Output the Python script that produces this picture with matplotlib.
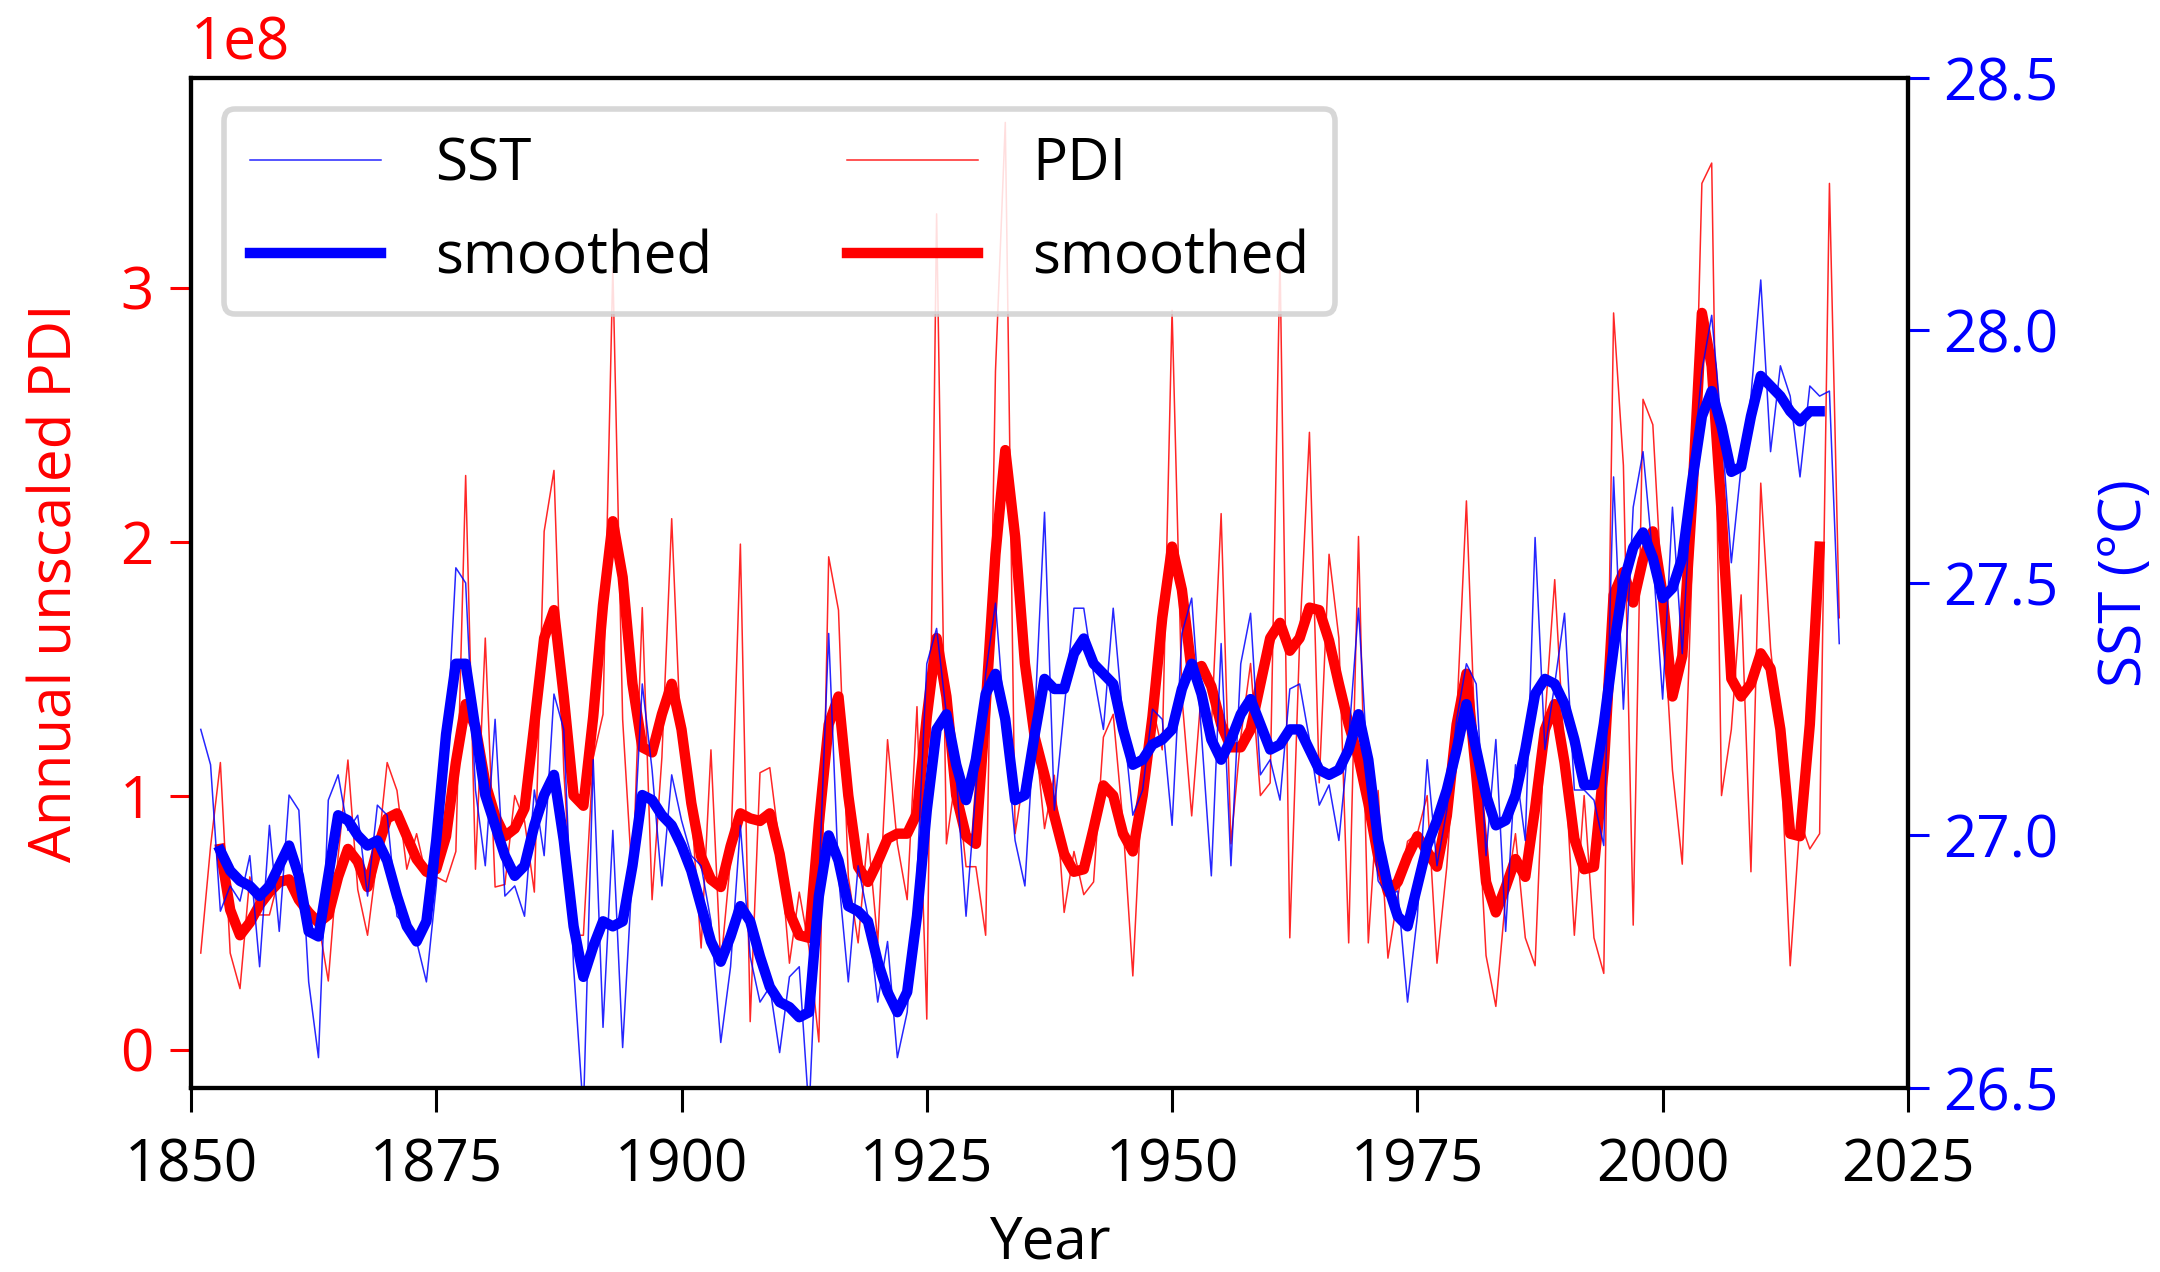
import numpy as np
import matplotlib
matplotlib.use("Agg")
import matplotlib.pyplot as plt
from matplotlib.ticker import FormatStrFormatter

plt.rcParams['font.family'] = ['Open Sans', 'DejaVu Sans']

years = list(range(1851, 2019))
smooth_years = list(range(1853, 2017))

# Annual unscaled PDI (units of 1e8)
pdi = [0.38, 0.80, 1.13, 0.38, 0.24, 0.68, 0.53, 0.53, 0.68, 0.68,
       0.63, 0.55, 0.50, 0.27, 0.76, 1.14, 0.63, 0.45, 0.76, 1.13,
       1.02, 0.71, 0.85, 0.68, 0.68, 0.66, 0.78, 2.26, 0.71, 1.62,
       0.64, 0.65, 1.00, 0.90, 0.62, 2.04, 2.28, 1.10, 0.45, 0.45,
       1.15, 1.32, 3.08, 1.30, 0.65, 1.74, 0.59, 1.15, 2.09, 1.15,
       0.95, 0.40, 1.18, 0.33, 0.75, 1.99, 0.11, 1.09, 1.11, 0.80,
       0.34, 0.62, 0.40, 0.03, 1.94, 1.73, 0.68, 0.42, 0.85, 0.42,
       1.22, 0.81, 0.59, 1.35, 0.12, 3.29, 0.81, 1.09, 0.72, 0.72,
       0.45, 2.67, 3.65, 0.85, 1.10, 1.26, 0.87, 1.08, 0.54, 0.78,
       0.61, 0.66, 1.23, 1.32, 0.89, 0.29, 1.08, 1.35, 1.18, 2.91,
       1.39, 0.92, 1.42, 1.26, 2.11, 0.81, 1.23, 1.52, 1.00, 1.05,
       3.12, 0.44, 1.61, 2.43, 1.05, 1.95, 1.62, 0.42, 2.02, 0.42,
       1.02, 0.36, 0.60, 0.82, 0.85, 1.00, 0.34, 0.72, 1.30, 2.16,
       1.10, 0.37, 0.17, 0.60, 0.85, 0.44, 0.33, 1.30, 1.85, 1.15,
       0.45, 1.00, 0.44, 0.30, 2.90, 2.30, 0.49, 2.56, 2.46, 1.75,
       1.10, 0.73, 1.90, 3.41, 3.49, 1.00, 1.26, 1.79, 0.70, 2.23,
       1.58, 1.20, 0.33, 0.90, 0.79, 0.85, 3.41, 1.70]

pdi_smooth = [0.79, 0.55, 0.45, 0.50, 0.57, 0.62, 0.66, 0.67,
              0.59, 0.54, 0.50, 0.53, 0.68, 0.79, 0.74, 0.64, 0.79, 0.91,
              0.93, 0.84, 0.75, 0.70, 0.71, 0.84, 1.13, 1.36, 1.27, 1.05,
              0.92, 0.84, 0.87, 0.95, 1.28, 1.62, 1.73, 1.39, 1.00, 0.96,
              1.31, 1.75, 2.08, 1.86, 1.44, 1.19, 1.17, 1.32, 1.44, 1.26,
              0.97, 0.76, 0.67, 0.64, 0.80, 0.93, 0.91, 0.90, 0.93, 0.77,
              0.54, 0.45, 0.44, 0.89, 1.28, 1.39, 1.00, 0.72, 0.66, 0.74,
              0.83, 0.85, 0.85, 0.93, 1.31, 1.62, 1.39, 1.00, 0.84, 0.81,
              1.35, 1.95, 2.36, 2.02, 1.52, 1.23, 1.08, 0.92, 0.77, 0.70,
              0.71, 0.87, 1.04, 1.00, 0.85, 0.78, 1.00, 1.31, 1.70, 1.98,
              1.81, 1.49, 1.51, 1.43, 1.28, 1.19, 1.19, 1.26, 1.44, 1.62,
              1.68, 1.57, 1.62, 1.74, 1.73, 1.61, 1.44, 1.28, 1.15, 0.97,
              0.76, 0.62, 0.66, 0.76, 0.84, 0.78, 0.72, 0.92, 1.28, 1.48,
              1.08, 0.66, 0.54, 0.64, 0.75, 0.68, 0.95, 1.26, 1.36, 1.13,
              0.83, 0.71, 0.72, 1.11, 1.79, 1.88, 1.76, 1.93, 2.04, 1.79,
              1.39, 1.55, 2.16, 2.90, 2.69, 2.12, 1.46, 1.39, 1.44, 1.56,
              1.50, 1.26, 0.85, 0.84, 1.28, 1.98]

# SST (deg C)
sst = [27.21, 27.14, 26.85, 26.90, 26.87, 26.96, 26.74, 27.02, 26.81, 27.08,
       27.05, 26.71, 26.56, 27.07, 27.12, 27.01, 27.04, 26.88, 27.06, 27.04,
       26.84, 26.82, 26.79, 26.71, 26.90, 27.16, 27.53, 27.50, 27.09, 26.94,
       27.23, 26.88, 26.90, 26.84, 27.09, 26.96, 27.28, 27.21, 26.74, 26.45,
       27.15, 26.62, 27.01, 26.58, 26.93, 27.30, 27.13, 26.90, 27.12, 27.03,
       26.96, 26.94, 26.83, 26.59, 26.74, 27.02, 26.76, 26.67, 26.70, 26.57,
       26.72, 26.74, 26.45, 26.90, 27.40, 26.92, 26.71, 26.94, 26.84, 26.67,
       26.79, 26.56, 26.65, 26.92, 27.34, 27.41, 27.24, 27.12, 26.84, 27.09,
       27.32, 27.46, 27.21, 26.99, 26.90, 27.23, 27.64, 27.05, 27.25, 27.45,
       27.45, 27.32, 27.21, 27.45, 27.23, 27.04, 27.09, 27.25, 27.23, 27.02,
       27.40, 27.47, 27.20, 26.92, 27.38, 26.94, 27.34, 27.44, 27.12, 27.15,
       27.07, 27.29, 27.30, 27.19, 27.06, 27.10, 26.99, 27.19, 27.45, 27.11,
       26.91, 26.88, 26.89, 26.67, 26.84, 27.15, 26.94, 27.05, 27.23, 27.34,
       27.30, 26.96, 27.19, 26.81, 27.14, 26.99, 27.59, 27.17, 27.30, 27.44,
       27.09, 27.09, 27.07, 26.98, 27.71, 27.25, 27.65, 27.76, 27.55, 27.27,
       27.65, 27.36, 27.71, 27.92, 28.03, 27.81, 27.54, 27.73, 27.87, 28.10,
       27.76, 27.93, 27.87, 27.71, 27.89, 27.87, 27.88, 27.38]

sst_smooth = [26.97, 26.93, 26.91, 26.90, 26.88, 26.90, 26.94, 26.98,
              26.92, 26.81, 26.80, 26.92, 27.04, 27.03, 27.00, 26.98, 26.99, 26.95,
              26.88, 26.82, 26.79, 26.83, 26.99, 27.20, 27.34, 27.34, 27.21, 27.08,
              27.02, 26.96, 26.92, 26.94, 27.02, 27.08, 27.12, 26.99, 26.82, 26.72,
              26.78, 26.83, 26.82, 26.83, 26.94, 27.08, 27.07, 27.04, 27.02, 26.98,
              26.93, 26.86, 26.79, 26.75, 26.80, 26.86, 26.83, 26.76, 26.70, 26.67,
              26.66, 26.64, 26.65, 26.88, 27.00, 26.95, 26.86, 26.85, 26.83, 26.75,
              26.69, 26.65, 26.69, 26.84, 27.05, 27.21, 27.24, 27.14, 27.07, 27.15,
              27.28, 27.32, 27.23, 27.07, 27.08, 27.20, 27.31, 27.29, 27.29, 27.36,
              27.39, 27.34, 27.32, 27.30, 27.21, 27.14, 27.15, 27.18, 27.19, 27.21,
              27.29, 27.34, 27.28, 27.19, 27.15, 27.19, 27.24, 27.27, 27.22, 27.17,
              27.18, 27.21, 27.21, 27.17, 27.13, 27.12, 27.13, 27.17, 27.24, 27.15,
              26.99, 26.90, 26.84, 26.82, 26.90, 26.98, 27.03, 27.09, 27.17, 27.26,
              27.17, 27.08, 27.02, 27.03, 27.08, 27.17, 27.28, 27.31, 27.30, 27.26,
              27.19, 27.10, 27.10, 27.22, 27.37, 27.50, 27.57, 27.60, 27.55, 27.47,
              27.49, 27.55, 27.70, 27.83, 27.88, 27.81, 27.72, 27.73, 27.83, 27.91,
              27.89, 27.87, 27.84, 27.82, 27.84, 27.84]

pdi_ticks = [0, 1, 2, 3]
sst_ticks = [26.5, 27.0, 27.5, 28.0, 28.5]
year_ticks = [1850, 1875, 1900, 1925, 1950, 1975, 2000, 2025]

RED = '#ff0000'
BLUE = '#0000ff'
FS = 42

fig = plt.figure(figsize=(21.6, 12.72), dpi=100)
ax = fig.add_axes([0.0884, 0.1447, 0.7949, 0.794])
ax2 = ax.twinx()

scale = 1e8
ax.plot(years, np.array(pdi) * scale, color=RED, lw=1.1, alpha=0.85, label='PDI')
ax.plot(smooth_years, np.array(pdi_smooth) * scale, color=RED, lw=7.5, label='smoothed')
l1, = ax2.plot(years, sst, color=BLUE, lw=1.1, alpha=0.85, label='SST')
l2, = ax2.plot(smooth_years, sst_smooth, color=BLUE, lw=7.5, label='smoothed')

ax.set_xlim(1850, 2025)
ax.set_ylim(-0.151 * scale, 3.825 * scale)
ax2.set_ylim(26.5, 28.5)

ax.set_xticks(year_ticks)
ax.set_yticks(np.array(pdi_ticks) * scale)
ax2.set_yticks(sst_ticks)
ax2.yaxis.set_major_formatter(FormatStrFormatter('%.1f'))

ax.tick_params(axis='x', labelsize=FS, length=17, width=2.2, colors='black', pad=18)
ax.tick_params(axis='y', labelsize=FS, length=15, width=2.2, colors=RED, pad=12)
ax2.tick_params(axis='y', labelsize=FS, length=15, width=2.2, colors=BLUE, pad=10)
ax.yaxis.get_offset_text().set_visible(False)
ax.text(0.0, 1.018, '1e8', transform=ax.transAxes, fontsize=FS, color=RED,
        ha='left', va='baseline')

for a in (ax, ax2):
    for s in a.spines.values():
        s.set_linewidth(3)
        s.set_color('black')

ax.set_xlabel('Year', fontsize=FS, labelpad=14)
ax.set_ylabel('Annual unscaled PDI', fontsize=FS, color=RED, labelpad=25)
ax2.set_ylabel('SST (°C)', fontsize=FS, color=BLUE, labelpad=28)

handles = [l1, l2] + ax.get_lines()
labels = ['SST', 'smoothed', 'PDI', 'smoothed']
leg = ax2.legend(handles, labels, loc='upper left', ncol=2, fontsize=FS,
                 bbox_to_anchor=(0.019, 0.969), borderaxespad=0.0,
                 handlelength=2.25, handletextpad=0.93, columnspacing=2.3,
                 borderpad=0.45, labelspacing=0.6, fancybox=True,
                 framealpha=0.85)
leg.get_frame().set_edgecolor('#d0d0d0')
leg.get_frame().set_linewidth(4)

fig.savefig('out.png', dpi=100)
